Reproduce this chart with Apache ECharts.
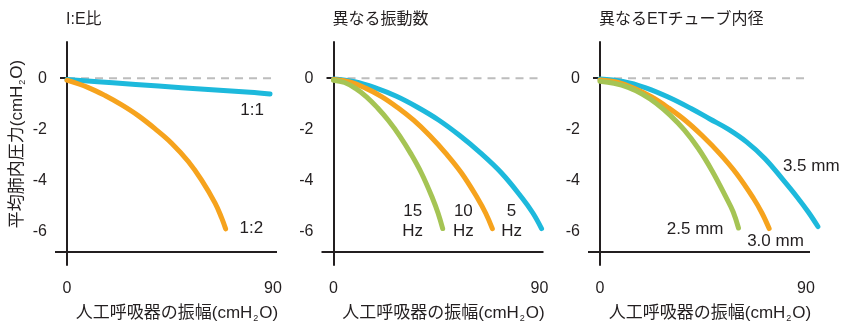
<!DOCTYPE html>
<html>
<head>
<meta charset="utf-8">
<script src="https://cdn.jsdelivr.net/npm/echarts@6/dist/echarts.min.js"></script>
<style>
  html, body { margin: 0; padding: 0; background: #ffffff; }
  #chart { width: 844px; height: 323px; }
</style>
</head>
<body>
<div id="chart"></div>
<script>
// ---- text ----
const panelTitles = ['I:E比', '異なる振動数', '異なるETチューブ内径'];
const xAxisTitle = ['人工呼吸器の振幅(cmH', '2', 'O)'];
const yAxisTitle = ['平均肺内圧力(cmH', '2', 'O)'];
const xTickValues = [0, 90];
const yTickValues = [0, -2, -4, -6];
const yTickMarks = [0];

// ---- I:E ratio ----
const ie11Label = '1:1';
const ie11X = [0, 20, 40, 60, 80, 88.7];
const ie11Y = [-0.05, -0.18, -0.31, -0.43, -0.55, -0.62];
const ie12Label = '1:2';
const ie12X = [0, 9.3, 16.6, 23.9, 31.1, 38.4, 45.7, 53, 58.8, 64.7, 67.6, 69.3];
const ie12Y = [-0.08, -0.37, -0.68, -1.05, -1.47, -1.98, -2.55, -3.27, -4.0, -4.9, -5.49, -5.91];

// ---- oscillation frequency ----
const hz5Label = '5\nHz';
const hz5X = [0, 9.2, 18.3, 27.5, 36.7, 45.9, 55, 64.2, 73.4, 82.5, 87.1, 90.9];
const hz5Y = [-0.03, -0.14, -0.38, -0.71, -1.14, -1.64, -2.24, -2.93, -3.72, -4.71, -5.29, -5.9];
const hz10Label = '10\nHz';
const hz10X = [0, 7, 14, 21, 28, 35, 42, 49, 56, 63, 66.5, 69.4];
const hz10Y = [-0.05, -0.15, -0.39, -0.72, -1.15, -1.65, -2.25, -2.94, -3.73, -4.72, -5.3, -5.9];
const hz15Label = '15\nHz';
const hz15X = [0, 4.8, 9.6, 14.4, 19.2, 24, 28.9, 33.7, 38.5, 43.3, 45.7, 47.7];
const hz15Y = [-0.08, -0.17, -0.4, -0.73, -1.16, -1.66, -2.26, -2.95, -3.74, -4.72, -5.3, -5.9];

// ---- ET tube inner diameter ----
const et35Label = '3.5 mm';
const et35X = [0, 10, 20, 30, 40, 48, 56, 64, 72, 80.1, 86, 91, 95.2];
const et35Y = [-0.03, -0.13, -0.38, -0.75, -1.2, -1.6, -2.0, -2.5, -3.15, -4.0, -4.65, -5.25, -5.82];
const et30Label = '3.0 mm';
const et30X = [0, 7.5, 14.9, 22.4, 29.8, 37.3, 44.7, 52.2, 59.6, 67.1, 70.8, 73.9];
const et30Y = [-0.07, -0.16, -0.4, -0.73, -1.16, -1.66, -2.26, -2.95, -3.74, -4.72, -5.3, -5.9];
const et25Label = '2.5 mm';
const et25X = [0, 6.1, 12.3, 18.4, 24.5, 30.6, 36.8, 42.9, 49, 55.1, 58.2, 60.5];
const et25Y = [-0.12, -0.2, -0.36, -0.62, -0.98, -1.45, -2.03, -2.75, -3.64, -4.68, -5.25, -5.88];

// ---- styling / layout ----
const FONT = "'Liberation Sans', 'Noto Sans CJK JP', sans-serif";
const INK = '#231f20';
const BLUE = '#1db9dc';
const ORANGE = '#f6a31d';
const GREEN = '#a5c454';
const ZERO_COLOR = '#bdbdbd';
// value range of each plotting area; the drawn horizontal axis stops at X_AXIS_END
const X_MIN = -5.25, X_MAX = 97, X_AXIS_END = 91.75;
const Y_MIN = -7.33, Y_MAX = 1.42, X_AXIS_LEVEL = -6.82;
const PX_PER_X = 222 / (X_AXIS_END - X_MIN);
const GRID_LEFTS = [55, 321.5, 588];
const GRID_TOP = 42, GRID_H = 223;
const GRID_W = PX_PER_X * (X_MAX - X_MIN);

const zip = (xs, ys) => xs.map((x, i) => [x, ys[i]]);

const panels = [
  [
    { text: ie11Label, x: ie11X, y: ie11Y, color: BLUE, align: 'center', offset: [-18, 16] },
    { text: ie12Label, x: ie12X, y: ie12Y, color: ORANGE, align: 'left', offset: [14, 0] }
  ],
  [
    { text: hz5Label, x: hz5X, y: hz5Y, color: BLUE, align: 'center', offset: [-30, -7] },
    { text: hz10Label, x: hz10X, y: hz10Y, color: ORANGE, align: 'center', offset: [-29, -7] },
    { text: hz15Label, x: hz15X, y: hz15Y, color: GREEN, align: 'center', offset: [-30, -7] }
  ],
  [
    { text: et35Label, x: et35X, y: et35Y, color: BLUE, align: 'left', offset: [-35, -60] },
    { text: et30Label, x: et30X, y: et30Y, color: ORANGE, align: 'left', offset: [-22, 13] },
    { text: et25Label, x: et25X, y: et25Y, color: GREEN, align: 'right', offset: [-15, 1] }
  ]
];

const richName = {
  t: { fontFamily: FONT, fontSize: 17, color: INK, lineHeight: 20 },
  s: { fontFamily: FONT, fontSize: 9, color: INK, lineHeight: 20, verticalAlign: 'bottom', padding: [0, 1, 0, 1] }
};
const nameText = (parts) => `{t|${parts[0]}}{s|${parts[1]}}{t|${parts[2]}}`;

const grids = [], xAxes = [], yAxes = [], titles = [], series = [];

panels.forEach((curves, i) => {
  grids.push({
    left: GRID_LEFTS[i], top: GRID_TOP, width: GRID_W, height: GRID_H,
    containLabel: false, outerBoundsMode: 'none'
  });

  titles.push({
    text: panelTitles[i],
    left: GRID_LEFTS[i] + 11,
    top: 12,
    padding: 0,
    textStyle: { fontFamily: FONT, fontSize: 16, fontWeight: 'normal', color: INK }
  });

  xAxes.push({
    gridIndex: i, type: 'value', min: X_MIN, max: X_MAX,
    axisLine: { show: false, onZero: false },
    axisTick: { show: false },
    splitLine: { show: false },
    axisLabel: {
      customValues: xTickValues, margin: 16,
      fontFamily: FONT, fontSize: 16, color: INK
    },
    name: nameText(xAxisTitle),
    nameLocation: 'middle',
    nameGap: 38,
    nameTextStyle: { rich: richName, padding: [0, 0, 0, 10] }
  });

  yAxes.push({
    gridIndex: i, type: 'value', min: Y_MIN, max: Y_MAX,
    axisLine: { show: true, onZero: true, lineStyle: { color: INK, width: 2 } },
    axisTick: { show: true, customValues: yTickMarks, length: 7, lineStyle: { color: INK, width: 2 } },
    splitLine: { show: false },
    axisLabel: {
      customValues: yTickValues, margin: 8,
      fontFamily: FONT, fontSize: 16, color: INK
    }
  });

  // horizontal axis line, drawn above the bottom of the plotting area
  series.push({
    type: 'line', xAxisIndex: i, yAxisIndex: i, z: 3,
    data: [[X_MIN, X_AXIS_LEVEL], [X_AXIS_END, X_AXIS_LEVEL]],
    symbol: 'none', silent: true,
    lineStyle: { color: INK, width: 2 }
  });

  // dashed reference line at zero pressure
  series.push({
    type: 'line', xAxisIndex: i, yAxisIndex: i, z: 1,
    data: [[0, 0], [X_AXIS_END, 0]],
    symbol: 'none', silent: true,
    lineStyle: { color: ZERO_COLOR, width: 2, type: [8, 6] }
  });

  curves.forEach((c) => {
    const data = zip(c.x, c.y);
    series.push({
      type: 'line', xAxisIndex: i, yAxisIndex: i, z: 2,
      data: data,
      smooth: 0.4,
      symbol: 'none', clip: false, silent: true,
      lineStyle: { color: c.color, width: 5, cap: 'round', join: 'round' },
      markPoint: {
        silent: true,
        symbol: 'circle', symbolSize: 1,
        itemStyle: { color: 'rgba(0,0,0,0)' },
        data: [{ coord: data[data.length - 1] }],
        label: {
          show: true, position: 'inside', formatter: c.text,
          align: c.align, verticalAlign: 'middle', offset: c.offset,
          fontFamily: FONT, fontSize: 17, lineHeight: 20, color: INK,
          textBorderWidth: 0
        }
      }
    });
  });
});

const chart = echarts.init(document.getElementById('chart'), null, { renderer: 'canvas' });
chart.setOption({
  animation: false,
  backgroundColor: '#ffffff',
  title: titles,
  grid: grids,
  xAxis: xAxes,
  yAxis: yAxes,
  series: series,
  graphic: [{
    type: 'text',
    x: 17, y: 144,
    rotation: Math.PI / 2,
    style: {
      text: nameText(yAxisTitle),
      rich: {
        t: { fontFamily: FONT, fontSize: 17, fill: INK, lineHeight: 20 },
        s: { fontFamily: FONT, fontSize: 9, fill: INK, lineHeight: 20, verticalAlign: 'bottom', padding: [0, 1, 0, 1] }
      },
      align: 'center', verticalAlign: 'middle'
    }
  }]
});
</script>
</body>
</html>
